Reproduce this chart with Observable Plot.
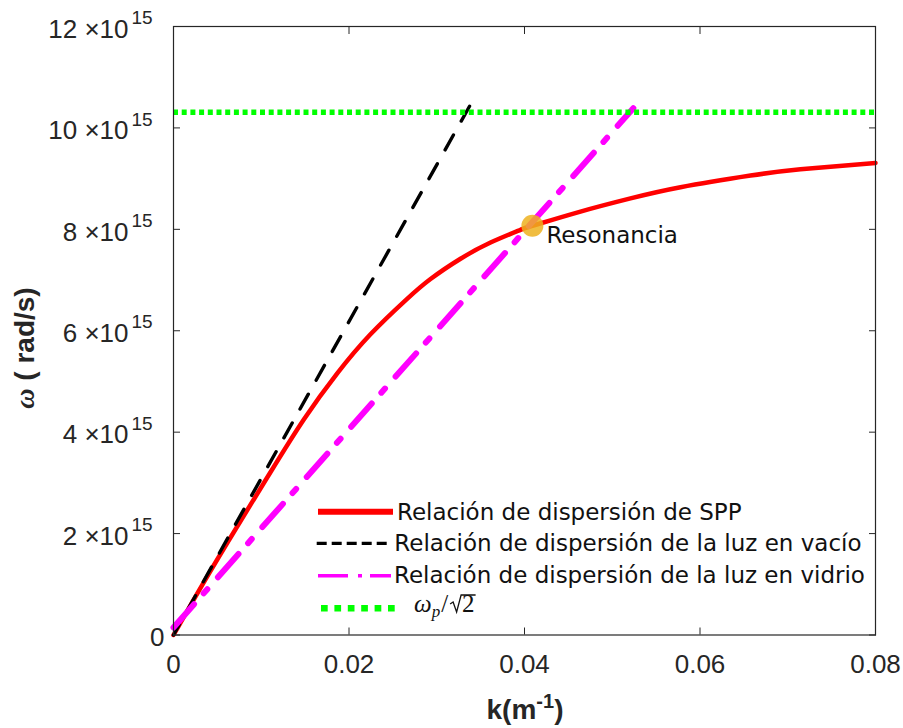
<!DOCTYPE html>
<html>
<head>
<meta charset="utf-8">
<script src="https://cdn.jsdelivr.net/npm/d3@7"></script>
<script src="https://cdn.jsdelivr.net/npm/@observablehq/plot@0.6"></script>
<style>
  html, body { margin: 0; padding: 0; background: #fff; }
  #chart { width: 903px; height: 728px; }
</style>
</head>
<body>
<div id="chart"></div>
<script>
// ---- data (k in m^-1 as labelled, omega in units of 1e15 rad/s) ----
const kTicks = [0, 0.02, 0.04, 0.06, 0.08];
const kTickLabels = ["0", "0.02", "0.04", "0.06", "0.08"];
const wTicks = [0, 2, 4, 6, 8, 10, 12];
const wTickLabels = ["0", "2", "4", "6", "8", "10", "12"];
const wExponent = "15";

const sppK = [0, 0.00345, 0.00726, 0.01105, 0.01485, 0.01866, 0.02245, 0.02644, 0.02929, 0.03271, 0.03613, 0.03954, 0.04091, 0.04638, 0.05208, 0.05778, 0.06576, 0.07145, 0.08];
const sppW = [0, 1.04, 2.14, 3.21, 4.25, 5.16, 5.93, 6.60, 7.02, 7.42, 7.74, 7.99, 8.07, 8.35, 8.61, 8.83, 9.06, 9.185, 9.31];

const vacuumK = [0, 0.0341];
const vacuumW = [0, 10.54];

const glassK = [0, 0.0524];
const glassW = [0.15, 10.39];

const surfaceW = [10.31];

const resonanceK = [0.0409];
const resonanceW = [8.07];
const resonanceLabel = ["Resonancia"];

const legendLabels = [
  "Relación de dispersión de SPP",
  "Relación de dispersión de la luz en vacío",
  "Relación de dispersión de la luz en vidrio"
];

// ---- tables ----
const spp = sppK.map((k, i) => ({k, w: sppW[i]}));
const vacuum = vacuumK.map((k, i) => ({k, w: vacuumW[i]}));
const glass = glassK.map((k, i) => ({k, w: glassW[i]}));
const resonance = resonanceK.map((k, i) => ({k, w: resonanceW[i], label: resonanceLabel[i]}));

const axisColor = "#262626";
const tickFont = "Liberation Sans, Arial, sans-serif";

const plot = Plot.plot({
  width: 903,
  height: 728,
  marginLeft: 173,
  marginRight: 28,
  marginTop: 26,
  marginBottom: 93.5,
  style: {background: "#fff", color: axisColor, fontFamily: tickFont, overflow: "visible"},
  x: {domain: [0, 0.08]},
  y: {domain: [0, 12]},
  marks: [
    Plot.line(spp, {x: "k", y: "w", stroke: "#ff0000", strokeWidth: 4.5, curve: "natural"}),
    Plot.line(vacuum, {x: "k", y: "w", stroke: "#000", strokeWidth: 3.4, strokeDasharray: "17,16", strokeDashoffset: 5}),
    Plot.line(glass, {x: "k", y: "w", stroke: "#ff00ff", strokeWidth: 6, strokeDasharray: "31,14.5,5.5,16"}),
    Plot.ruleY(surfaceW, {stroke: "#00ff00", strokeWidth: 5.5, strokeDasharray: "5,3.7"}),
    Plot.dot(resonance, {x: "k", y: "w", r: 11, fill: "#EDB120", fillOpacity: 0.85, stroke: null}),
    Plot.text(resonance, {x: "k", y: "w", text: "label", dx: 14, dy: 10, textAnchor: "start", fontSize: 23, fontFamily: "DejaVu Sans", fill: "#111"}),
    Plot.frame({stroke: axisColor, strokeWidth: 1.2}),
    // inward ticks on all four sides
    Plot.axisX({ticks: kTicks, tickSize: -7, tickFormat: () => "", label: null, stroke: axisColor}),
    Plot.axisX({anchor: "top", ticks: kTicks, tickSize: -7, tickFormat: () => "", label: null, stroke: axisColor}),
    Plot.axisY({ticks: wTicks, tickSize: -7, tickFormat: () => "", label: null, stroke: axisColor}),
    Plot.axisY({anchor: "right", ticks: wTicks, tickSize: -7, tickFormat: () => "", label: null, stroke: axisColor}),
    // tick labels
    Plot.axisX({ticks: kTicks, tickSize: 0, tickPadding: 19.5, fontSize: 26, fill: axisColor,
      tickFormat: d => kTickLabels[kTicks.indexOf(d)], label: null}),
    Plot.axisY({ticks: wTicks.slice(1), tickSize: 0, tickPadding: 45, fontSize: 26, dy: 3, fill: axisColor,
      tickFormat: d => wTickLabels[wTicks.indexOf(d)] + " \u00d710", label: null}),
    Plot.axisY({ticks: wTicks.slice(1), tickSize: 0, tickPadding: 42, fontSize: 19, dy: -8.5, textAnchor: "start", fill: axisColor,
      tickFormat: () => wExponent, label: null}),
    Plot.axisY({ticks: [0], tickSize: 0, tickPadding: 9, fontSize: 26, dy: 3, fill: axisColor,
      tickFormat: d => wTickLabels[wTicks.indexOf(d)], label: null})
  ]
});

document.getElementById("chart").appendChild(plot);

const svg = d3.select(plot);

// ---- axis titles ----
const xt = svg.append("text")
  .attr("x", 525).attr("y", 719.3)
  .attr("text-anchor", "middle")
  .attr("font-family", tickFont).attr("font-weight", "bold").attr("font-size", 28)
  .attr("fill", axisColor);
xt.append("tspan").text("k(m");
xt.append("tspan").attr("font-size", 20).attr("dy", -11).text("-1");
xt.append("tspan").attr("dy", 11).text(")");

const yt = svg.append("text")
  .attr("transform", "translate(34,348) rotate(-90)")
  .attr("text-anchor", "middle")
  .attr("font-family", tickFont).attr("font-weight", "bold").attr("font-size", 28)
  .attr("fill", axisColor);
yt.append("tspan").attr("font-family", "Liberation Serif, serif").attr("font-style", "italic").text("\u03c9");
yt.append("tspan").text(" ( rad/s)");

// ---- legend ----
const lg = svg.append("g").attr("font-family", "DejaVu Sans, sans-serif").attr("font-size", 23)
  .attr("fill", "#111").attr("text-anchor", "start");
const rows = [
  {y: 511.7, x1: 318, x2: 393, tx: 397, base: 519.5, stroke: "#ff0000", w: 6, dash: null},
  {y: 543.3, x1: 316.7, x2: 390, tx: 394.3, base: 551.3, stroke: "#000", w: 3.2, dash: "10,5"},
  {y: 575.7, x1: 318, x2: 391, tx: 394, base: 583, stroke: "#ff00ff", w: 3.5, dash: "30,10,4,8"}
];
rows.forEach((r, i) => {
  lg.append("line").attr("x1", r.x1).attr("x2", r.x2).attr("y1", r.y).attr("y2", r.y)
    .attr("stroke", r.stroke).attr("stroke-width", r.w).attr("stroke-dasharray", r.dash);
  lg.append("text").attr("x", r.tx).attr("y", r.base).attr("text-anchor", "start").text(legendLabels[i]);
});
lg.append("line").attr("x1", 321).attr("x2", 397).attr("y1", 608.3).attr("y2", 608.3)
  .attr("stroke", "#00ff00").attr("stroke-width", 6.5).attr("stroke-dasharray", "6.7,6.7");

// math label  omega_p / sqrt(2)
const mg = lg.append("g").attr("font-family", "Liberation Serif, serif").attr("fill", "#111");
const mx = 414, mb = 612;
const m1 = mg.append("text").attr("x", mx).attr("y", mb).attr("font-size", 25).attr("text-anchor", "start");
m1.append("tspan").attr("font-style", "italic").text("\u03c9");
m1.append("tspan").attr("font-style", "italic").attr("font-size", 17).attr("dy", 5).text("p");
m1.append("tspan").attr("dy", -5).attr("dx", 1).text("/");
const w1 = m1.node().getComputedTextLength() + 3;
const two = mg.append("text").attr("x", mx + w1 + 12).attr("y", mb).attr("font-size", 25)
  .attr("text-anchor", "start").text("2");
const w2 = two.node().getComputedTextLength();
const rx = mx + w1;
mg.append("path")
  .attr("d", `M${rx},${mb - 8} L${rx + 3},${mb - 10} L${rx + 6.5},${mb} L${rx + 11},${mb - 17} L${rx + 12 + w2 + 1},${mb - 17}`)
  .attr("fill", "none").attr("stroke", "#111").attr("stroke-width", 1.3);
</script>
</body>
</html>
